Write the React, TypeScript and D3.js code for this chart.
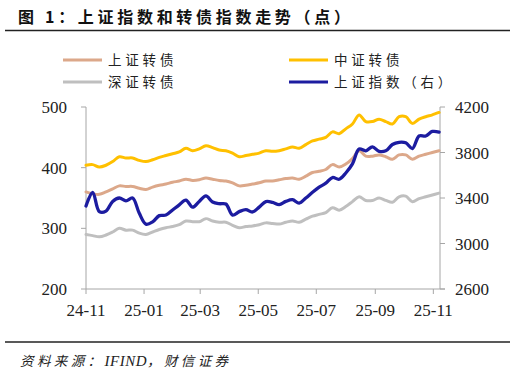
import * as d3 from "d3";

// weekly closes
const dates = [
  "2024-11-01", "2024-11-08", "2024-11-15", "2024-11-22", "2024-11-29",
  "2024-12-06", "2024-12-13", "2024-12-20", "2024-12-27",
  "2025-01-03", "2025-01-10", "2025-01-17", "2025-01-24", "2025-01-31",
  "2025-02-07", "2025-02-14", "2025-02-21", "2025-02-28",
  "2025-03-07", "2025-03-14", "2025-03-21", "2025-03-28",
  "2025-04-04", "2025-04-11", "2025-04-18", "2025-04-25",
  "2025-05-02", "2025-05-09", "2025-05-16", "2025-05-23", "2025-05-30",
  "2025-06-06", "2025-06-13", "2025-06-20", "2025-06-27",
  "2025-07-04", "2025-07-11", "2025-07-18", "2025-07-25",
  "2025-08-01", "2025-08-08", "2025-08-15", "2025-08-22", "2025-08-29",
  "2025-09-05", "2025-09-12", "2025-09-19", "2025-09-26",
  "2025-10-03", "2025-10-10", "2025-10-17", "2025-10-24", "2025-10-31",
  "2025-11-07",
];

const shCB = [
  360, 357, 356, 360, 365, 370, 369, 369, 366, 364, 368, 371, 373, 376, 378, 381, 379, 380,
  383, 381, 379, 378, 375, 370, 371, 373, 375, 378, 378, 380, 382, 383, 381, 386, 392, 394,
  397, 405, 401, 406, 415, 428, 419, 419, 421, 418, 414, 421, 421, 414, 419, 422, 425, 428,
];
const zzCB = [
  404, 405, 401, 404, 410, 418, 416, 416, 412, 410, 413, 417, 420, 423, 426, 432, 428, 431,
  436, 433, 429, 428, 424, 418, 420, 422, 424, 428, 427, 428, 431, 434, 432, 438, 444, 447,
  450, 459, 456, 464, 472, 487, 476, 476, 480, 476, 472, 484, 484, 473, 480, 484, 487, 491,
];
const szCB = [
  290, 288, 286, 289, 294, 300, 297, 297, 292, 290, 294, 298, 301, 303, 306, 312, 311, 311,
  316, 312, 310, 310, 305, 301, 303, 304, 306, 309, 308, 307, 310, 312, 310, 315, 320, 323,
  326, 334, 330, 336, 344, 352, 346, 346, 350, 346, 343, 352, 353, 344, 349, 352, 355, 358,
];
const shIndex = [
  3330, 3450, 3280, 3285, 3370, 3400, 3375, 3400, 3265, 3170, 3190, 3245, 3250, 3295, 3340,
  3382, 3320, 3370, 3418, 3365, 3350, 3347, 3250, 3280, 3298, 3277, 3320, 3368, 3362, 3342,
  3370, 3385, 3355, 3400, 3450, 3495, 3530, 3580, 3565, 3620, 3700, 3830, 3815, 3850, 3810,
  3815, 3870, 3890, 3885, 3835, 3945, 3945, 3985, 3980,
];

const leftTicks = [200, 300, 400, 500];
const rightTicks = [2600, 3000, 3400, 3800, 4200];
const xTicks = ["2024-11-01", "2025-01-01", "2025-03-01", "2025-05-01", "2025-07-01", "2025-09-01", "2025-11-01"];

const series = [
  { name: "上证转债", values: shCB, color: "#DCA88A", axis: "left" },
  { name: "中证转债", values: zzCB, color: "#FFC000", axis: "left" },
  { name: "深证转债", values: szCB, color: "#BFBFBF", axis: "left" },
  { name: "上证指数（右）", values: shIndex, color: "#1C1CA0", axis: "right" },
];

const W = 516;
const H = 374;
const left = 86;
const right = 440;
const top = 107;
const bottom = 289;
const axisColor = "#A6A6A6";
const cjk = "'Noto Sans CJK SC', sans-serif";
const serif = "'Liberation Serif', 'Times New Roman', serif";

const parse = d3.timeParse("%Y-%m-%d");

export default function App() {
  const x = d3.scaleTime()
    .domain([parse("2024-11-01")!, parse("2025-11-08")!])
    .range([left, right]);
  const yL = d3.scaleLinear().domain([200, 500]).range([bottom, top]);
  const yR = d3.scaleLinear().domain([2600, 4200]).range([bottom, top]);
  const fmt = d3.timeFormat("%y-%m");

  const legendPos = [
    { lx: 63, ly: 60 },
    { lx: 289, ly: 60 },
    { lx: 63, ly: 82 },
    { lx: 289, ly: 82 },
  ];

  return (
    <svg width={W} height={H} style={{ position: "absolute", left: 0, top: 0, background: "#fff" }}>
      <text x={18} y={23} fontFamily={cjk} fontWeight="bold" fontSize={16} letterSpacing={3.7} fill="#111">
        图 1：上证指数和转债指数走势（点）
      </text>
      <line x1={5} x2={510} y1={30.5} y2={30.5} stroke="#222" strokeWidth={1.3} />

      {series.map((s, i) => (
        <g key={s.name}>
          <line x1={legendPos[i].lx} x2={legendPos[i].lx + 39} y1={legendPos[i].ly} y2={legendPos[i].ly}
            stroke={s.color} strokeWidth={3} />
          <text x={legendPos[i].lx + 45} y={legendPos[i].ly + 5} fontFamily={cjk} fontSize={13.5}
            letterSpacing={3.8} fill="#222">{s.name}</text>
        </g>
      ))}

      {/* axes */}
      <line x1={left} x2={left} y1={top} y2={bottom} stroke={axisColor} />
      <line x1={right} x2={right} y1={top} y2={bottom} stroke={axisColor} />
      <line x1={left} x2={right + 5} y1={bottom} y2={bottom} stroke={axisColor} />
      {leftTicks.map((t) => (
        <g key={t}>
          <line x1={left - 5} x2={left} y1={yL(t)} y2={yL(t)} stroke={axisColor} />
          <text x={67} y={yL(t) + 6} textAnchor="end" fontFamily={serif} fontSize={17} fill="#222">{t}</text>
        </g>
      ))}
      {rightTicks.map((t) => (
        <g key={t}>
          <line x1={right} x2={right + 5} y1={yR(t)} y2={yR(t)} stroke={axisColor} />
          <text x={455} y={yR(t) + 6} fontFamily={serif} fontSize={17} fill="#222">{t}</text>
        </g>
      ))}
      {xTicks.map((t) => {
        const d = parse(t)!;
        return (
          <g key={t}>
            <line x1={x(d)} x2={x(d)} y1={bottom} y2={bottom + 5} stroke={axisColor} />
            <text x={x(d)} y={316} textAnchor="middle" fontFamily={serif} fontSize={17} fill="#222">{fmt(d)}</text>
          </g>
        );
      })}

      {series.map((s) => {
        const y = s.axis === "left" ? yL : yR;
        const line = d3.line<number>()
          .x((_, i) => x(parse(dates[i])!))
          .y((v) => y(v))
          .curve(d3.curveCatmullRom.alpha(0.5));
        return (
          <path key={s.name} d={line(s.values) ?? ""} fill="none" stroke={s.color}
            strokeWidth={s.axis === "right" ? 3.3 : 3} strokeLinejoin="round" strokeLinecap="round" />
        );
      })}

      <line x1={5} x2={510} y1={342} y2={342} stroke="#222" strokeWidth={1.3} />
      <text x={20} y={366} fontStyle="italic" fontSize={13.5} fill="#222">
        <tspan fontFamily={cjk} letterSpacing={3.4}>资料来源：</tspan>
        <tspan fontFamily={serif} fontSize={15} letterSpacing={0.5}>IFIND</tspan>
        <tspan fontFamily={cjk} letterSpacing={3.4}>，财信证券</tspan>
      </text>
    </svg>
  );
}
